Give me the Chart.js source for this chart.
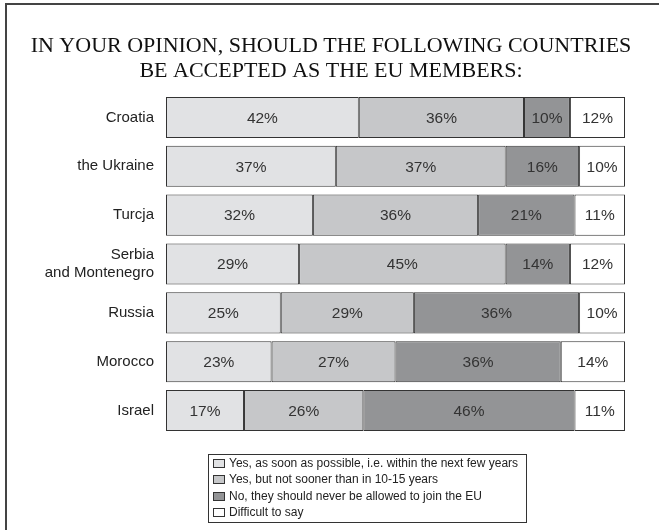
<!DOCTYPE html>
<html>
<head>
<meta charset="utf-8">
<script src="https://cdn.jsdelivr.net/npm/chart.js@4/dist/chart.umd.min.js"></script>
<style>
  html, body { margin: 0; padding: 0; background: #fff; }
  #wrap { width: 659px; height: 530px; position: relative; }
</style>
</head>
<body>
<div id="wrap"><canvas id="euChart" width="659" height="530"></canvas></div>
<script>
/* ==================== 数据 ==================== */
const countries = ['Croatia', 'the Ukraine', 'Turcja', ['Serbia', 'and Montenegro'], 'Russia', 'Morocco', 'Israel'];
const yesSoon   = [42, 37, 32, 29, 25, 23, 17];
const yesLater  = [36, 37, 36, 45, 29, 27, 26];
const never     = [10, 16, 21, 14, 36, 36, 46];
const dontKnow  = [12, 10, 11, 12, 10, 14, 11];
const seriesNames = [
    'Yes, as soon as possible, i.e. within the next few years',
    'Yes, but not sooner than in 10-15 years',
    'No, they should never be allowed to join the EU',
    'Difficult to say'
];
const titleLines = ['IN YOUR OPINION, SHOULD THE FOLLOWING COUNTRIES', 'BE ACCEPTED AS THE EU MEMBERS:'];

const fills = ['#e1e2e4', '#c6c7c9', '#939496', '#ffffff'];
const SANS = 'Arial, "Liberation Sans", sans-serif';

/* ==================== 外框 + 标题 ==================== */
const framePlugin = {
    id: 'frame',
    beforeDraw(chart) {
        const c = chart.ctx;
        c.save();
        c.fillStyle = '#fff';
        c.fillRect(0, 0, chart.width, chart.height);
        c.strokeStyle = '#444';
        c.lineWidth = 2;
        c.beginPath();
        c.moveTo(6, chart.height);
        c.lineTo(6, 4);
        c.lineTo(chart.width, 4);
        c.stroke();
        // 标题
        c.fillStyle = '#111';
        c.font = '22px "Liberation Serif", "Times New Roman", serif';
        c.textAlign = 'center';
        c.textBaseline = 'alphabetic';
        c.fillText(titleLines[0], 331, 52);
        c.fillText(titleLines[1], 331, 77);
        c.restore();
    }
};

/* ==================== 条内百分比 ==================== */
const valueLabels = {
    id: 'valueLabels',
    afterDatasetsDraw(chart) {
        const c = chart.ctx;
        c.save();
        c.font = '15.5px ' + SANS;
        c.fillStyle = '#333';
        c.textAlign = 'center';
        c.textBaseline = 'middle';
        chart.data.datasets.forEach((ds, i) => {
            chart.getDatasetMeta(i).data.forEach((bar, j) => {
                const cx = (bar.x + bar.base) / 2;
                c.fillText(ds.data[j] + '%', cx, bar.y + 1);
            });
        });
        c.restore();
    }
};

/* ==================== 图例框 ==================== */
const boxLegend = {
    id: 'boxLegend',
    afterDraw(chart) {
        const c = chart.ctx;
        const x0 = 208, y0 = 454, w = 318, h = 68;
        c.save();
        c.strokeStyle = '#333';
        c.lineWidth = 1;
        c.strokeRect(x0 + 0.5, y0 + 0.5, w, h);
        c.font = '12px ' + SANS;
        c.textBaseline = 'middle';
        c.textAlign = 'left';
        chart.data.datasets.forEach((ds, i) => {
            const y = Math.round(y0 + 9 + i * 16.3);
            c.fillStyle = ds.backgroundColor;
            c.fillRect(x0 + 5.5, y - 3.5, 11, 8);
            c.strokeStyle = '#333';
            c.strokeRect(x0 + 5.5, y - 3.5, 11, 8);
            c.fillStyle = '#222';
            c.fillText(ds.label, x0 + 21, y + 1);
        });
        c.restore();
    }
};

/* ==================== 图表 ==================== */
const seriesValues = [yesSoon, yesLater, never, dontKnow];

new Chart(document.getElementById('euChart'), {
    type: 'bar',
    data: {
        labels: countries,
        datasets: seriesValues.map((vals, i) => ({
            label: seriesNames[i],
            data: vals,
            backgroundColor: fills[i],
            borderColor: '#333',
            borderWidth: 1,
            borderSkipped: false,
            categoryPercentage: 0.84,
            barPercentage: 1
        }))
    },
    options: {
        indexAxis: 'y',
        responsive: false,
        animation: false,
        layout: { padding: { top: 93, bottom: 95, right: 34, left: 0 } },
        plugins: {
            legend: { display: false },
            title: { display: false },
            tooltip: { enabled: false }
        },
        scales: {
            x: {
                stacked: true,
                min: 0,
                max: 100,
                display: false
            },
            y: {
                stacked: true,
                grid: { display: false, drawTicks: false },
                border: { display: false },
                afterFit(scale) { scale.width = 166; },
                ticks: {
                    color: '#222',
                    padding: 12,
                    font: { family: SANS, size: 15 }
                }
            }
        }
    },
    plugins: [framePlugin, valueLabels, boxLegend]
});
</script>
</body>
</html>
